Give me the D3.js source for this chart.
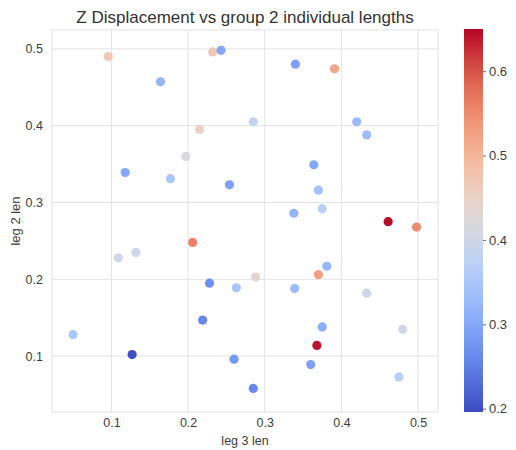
<!DOCTYPE html>
<html>
<head>
<meta charset="utf-8">
<script src="https://cdn.jsdelivr.net/npm/d3@7"></script>
<style>
  body { margin: 0; background: #fff; }
  text { font-family: "Liberation Sans", Arial, sans-serif; }
</style>
</head>
<body>
<div id="chart"></div>
<script>
const width = 516;
const height = 450;

// data
const leg3 = [0.096, 0.232, 0.243, 0.164, 0.215, 0.197, 0.118, 0.177, 0.254, 0.340,
	0.391, 0.285, 0.420, 0.433, 0.364, 0.370, 0.338, 0.375, 0.206, 0.109,
	0.132, 0.228, 0.263, 0.219, 0.050, 0.127, 0.260, 0.461, 0.498, 0.381,
	0.370, 0.288, 0.339, 0.433, 0.375, 0.480, 0.368, 0.360, 0.475, 0.285];
const leg2 = [0.490, 0.496, 0.498, 0.457, 0.395, 0.360, 0.339, 0.331, 0.323, 0.480,
	0.474, 0.405, 0.405, 0.388, 0.349, 0.316, 0.286, 0.292, 0.248, 0.228,
	0.235, 0.195, 0.189, 0.147, 0.128, 0.102, 0.096, 0.275, 0.268, 0.217,
	0.206, 0.203, 0.188, 0.182, 0.138, 0.135, 0.114, 0.089, 0.073, 0.058];
const zDisp = [0.47, 0.47, 0.30, 0.32, 0.45, 0.42, 0.30, 0.35, 0.29, 0.29,
	0.52, 0.38, 0.33, 0.33, 0.30, 0.34, 0.32, 0.37, 0.56, 0.40,
	0.40, 0.27, 0.35, 0.26, 0.35, 0.20, 0.28, 0.645, 0.55, 0.32,
	0.53, 0.44, 0.33, 0.40, 0.31, 0.40, 0.64, 0.29, 0.37, 0.26];

const xTicks = [0.1, 0.2, 0.3, 0.4, 0.5];
const yTicks = [0.1, 0.2, 0.3, 0.4, 0.5];
const cTicks = [0.2, 0.3, 0.4, 0.5, 0.6];

// matplotlib coolwarm, sampled
const coolwarm = d3.interpolateRgbBasis(["#3b4cc0", "#5977e3", "#7b9ff9", "#9ebeff", "#c0d4f5",
	"#dddcdc", "#f2cbb7", "#f7ac8e", "#ee8468", "#d65244", "#b40426"]);

const points = leg3.map((x, i) => ({ x: x, y: leg2[i], z: zDisp[i] }));

const plot = { left: 52, right: 438, top: 30, bottom: 412 };

const svg = d3.select("#chart").append("svg")
	.attr("width", width)
	.attr("height", height);

const x = d3.scaleLinear().domain([0.0225, 0.526]).range([plot.left, plot.right]);
const y = d3.scaleLinear().domain([0.0273, 0.5245]).range([plot.bottom, plot.top]);
const color = d3.scaleSequential(coolwarm).domain([0.196, 0.650]);

// grid
svg.append("g")
	.selectAll("line")
	.data(xTicks)
	.enter()
	.append("line")
	.attr("x1", d => x(d)).attr("x2", d => x(d))
	.attr("y1", plot.top).attr("y2", plot.bottom)
	.attr("stroke", "#e3e3e3");

svg.append("g")
	.selectAll("line")
	.data(yTicks)
	.enter()
	.append("line")
	.attr("y1", d => y(d)).attr("y2", d => y(d))
	.attr("x1", plot.left).attr("x2", plot.right)
	.attr("stroke", "#e3e3e3");

svg.append("rect")
	.attr("x", plot.left).attr("y", plot.top)
	.attr("width", plot.right - plot.left)
	.attr("height", plot.bottom - plot.top)
	.attr("fill", "none")
	.attr("stroke", "#e3e3e3");

// axes (labels only, seaborn whitegrid has no tick marks)
const xAxis = svg.append("g")
	.attr("transform", `translate(0,${plot.bottom})`)
	.call(d3.axisBottom(x).tickValues(xTicks).tickFormat(d3.format(".1f")).tickSize(0).tickPadding(6));
const yAxis = svg.append("g")
	.attr("transform", `translate(${plot.left},0)`)
	.call(d3.axisLeft(y).tickValues(yTicks).tickFormat(d3.format(".1f")).tickSize(0).tickPadding(9));

[xAxis, yAxis].forEach(a => {
	a.select(".domain").remove();
	a.selectAll("text").attr("fill", "#3d3d3d").style("font-size", "12.5px")
		.style("font-family", "'Liberation Sans', Arial, sans-serif");
});

// points
svg.append("g")
	.selectAll("circle")
	.data(points)
	.enter()
	.append("circle")
	.attr("cx", d => x(d.x))
	.attr("cy", d => y(d.y))
	.attr("r", 4.6)
	.attr("fill", d => color(d.z));

// colorbar
const cb = { left: 464, width: 19, top: 29, bottom: 412 };
const cScale = d3.scaleLinear().domain(color.domain()).range([cb.bottom, cb.top]);

const defs = svg.append("defs");
const grad = defs.append("linearGradient")
	.attr("id", "cbar")
	.attr("x1", 0).attr("y1", 1).attr("x2", 0).attr("y2", 0);
d3.range(0, 1.0001, 0.05).forEach(t => {
	grad.append("stop").attr("offset", t).attr("stop-color", coolwarm(t));
});

svg.append("rect")
	.attr("x", cb.left).attr("y", cb.top)
	.attr("width", cb.width).attr("height", cb.bottom - cb.top)
	.attr("fill", "url(#cbar)");

const cAxis = svg.append("g")
	.attr("transform", `translate(${cb.left + cb.width},0)`)
	.call(d3.axisRight(cScale).tickValues(cTicks).tickFormat(d3.format(".1f")).tickSize(3).tickPadding(3));
cAxis.select(".domain").remove();
cAxis.selectAll("line").attr("stroke", "#666");
cAxis.selectAll("text").attr("fill", "#3d3d3d").style("font-size", "13px")
	.style("font-family", "'Liberation Sans', Arial, sans-serif");

// titles
svg.append("text")
	.attr("x", 245).attr("y", 23)
	.attr("text-anchor", "middle")
	.attr("fill", "#333")
	.style("font-size", "17px")
	.text("Z Displacement vs group 2 individual lengths");

svg.append("text")
	.attr("x", 245).attr("y", 445)
	.attr("text-anchor", "middle")
	.attr("fill", "#3d3d3d")
	.style("font-size", "12.5px")
	.text("leg 3 len");

svg.append("text")
	.attr("transform", `translate(20,${(plot.top + plot.bottom) / 2}) rotate(-90)`)
	.attr("text-anchor", "middle")
	.attr("fill", "#3d3d3d")
	.style("font-size", "13px")
	.text("leg 2 len");
</script>
</body>
</html>
